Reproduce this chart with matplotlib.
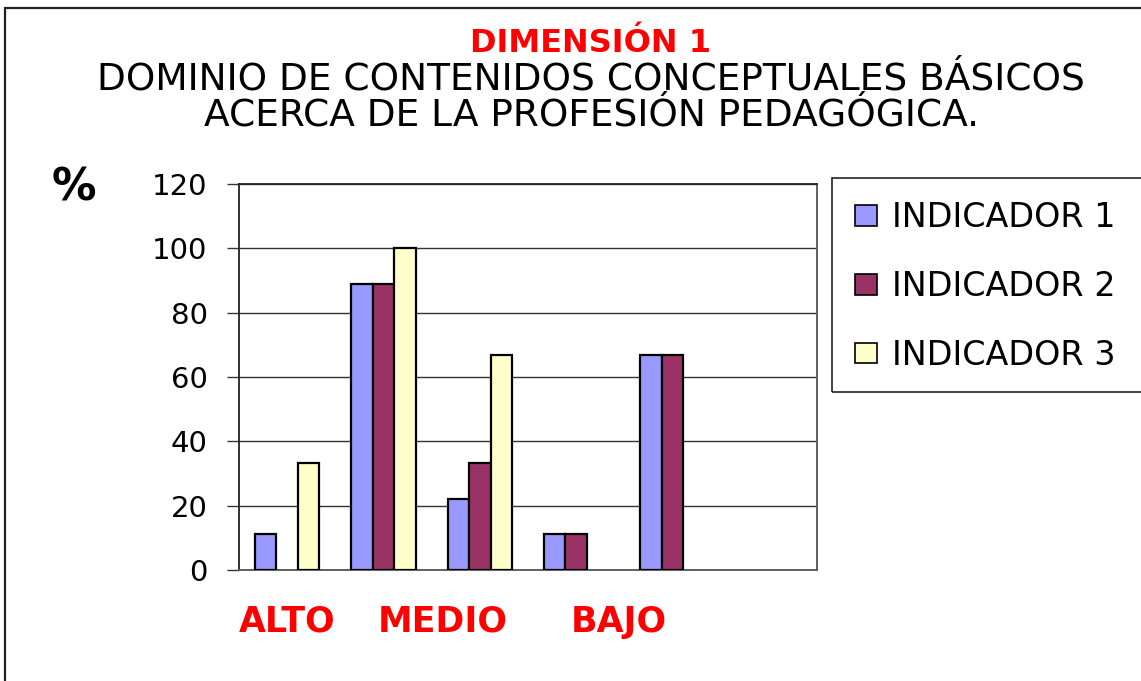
import matplotlib
matplotlib.use("Agg")
import matplotlib.pyplot as plt
from matplotlib.patches import Rectangle
import numpy as np

plt.rcParams['font.family'] = ['DejaVu Sans']

groups = np.arange(6)
indicador1 = [11.1, 88.9, 22.2, 11.1, 66.7, 0]
indicador2 = [0, 88.9, 33.3, 11.1, 66.7, 0]
indicador3 = [33.3, 100, 66.7, 0, 0, 0]
series_names = ["INDICADOR 1", "INDICADOR 2", "INDICADOR 3"]
colors = ["#9999FF", "#993366", "#FFFFCC"]
level_labels = ["ALTO", "MEDIO", "BAJO"]
level_pos = [0.0, 1.62, 3.44]
yticks = [0, 20, 40, 60, 80, 100, 120]

W, H = 1141, 681
fig = plt.figure(figsize=(W / 100, H / 100), dpi=100)

# figure border
fig.patches.append(Rectangle((5 / W, -0.05), 1.2, 1 - 8 / H + 0.05, transform=fig.transFigure,
                             fill=False, edgecolor="#222222", linewidth=1.6, zorder=0))
# legend frame (extends past the right edge as in the reference)
fig.patches.append(Rectangle((832 / W, 1 - 392 / H), 0.3, (392 - 178) / H, transform=fig.transFigure,
                             fill=False, edgecolor="#222222", linewidth=1.2, zorder=1))

ax = fig.add_axes([239 / W, 1 - 570 / H, (817 - 239) / W, (570 - 184) / H])
bw = 0.222
for i, (vals, name, c) in enumerate(zip([indicador1, indicador2, indicador3], series_names, colors)):
    lws = [1.6 if v > 0 else 0 for v in vals]
    ax.bar(groups + (i - 1) * bw, vals, width=bw, color=c, edgecolor="black",
           linewidth=lws, label=name, zorder=3)

ax.set_xlim(-0.5, 5.5)
ax.set_ylim(0, 120)
ax.set_yticks(yticks)
ax.set_yticklabels([str(t) for t in yticks], fontsize=21)
ax.tick_params(axis="y", length=8.6, width=1, pad=14, color="#333333")
ax.yaxis.grid(True, color="#333333", linewidth=1, zorder=0)
ax.set_axisbelow(True)
ax.set_xticks(level_pos)
ax.set_xticklabels(level_labels, fontsize=25, fontweight="bold", color="#FF0000")
ax.tick_params(axis="x", length=0, pad=25)
for s in ["left", "top"]:
    ax.spines[s].set_color("#222222")
for s in ["right", "bottom"]:
    ax.spines[s].set_color("#555555")
for s in ax.spines.values():
    s.set_linewidth(1.3)

leg = fig.legend(loc="upper left", bbox_to_anchor=(832 / W, 1 - 178 / H),
                 fontsize=24, frameon=False,
                 handlelength=0.66, handleheight=0.58, handletextpad=0.45,
                 labelspacing=1.07, borderpad=0.7, borderaxespad=0)
for h in leg.legend_handles:
    h.set_linewidth(1.2)

fig.text(591 / W, 1 - 43 / H, "DIMENSIÓN 1", ha="center", va="center",
         fontsize=23, fontweight="bold", color="#FF0000")
fig.text(591 / W, 1 - 80 / H, "DOMINIO DE CONTENIDOS CONCEPTUALES BÁSICOS",
         ha="center", va="center", fontsize=27, color="black")
fig.text(591 / W, 1 - 115 / H, "ACERCA DE LA PROFESIÓN PEDAGÓGICA.",
         ha="center", va="center", fontsize=27, color="black")
fig.text(74 / W, 1 - 188 / H, "%", ha="center", va="center",
         fontsize=32, fontweight="bold", color="black")

fig.savefig("out.png", dpi=100)
